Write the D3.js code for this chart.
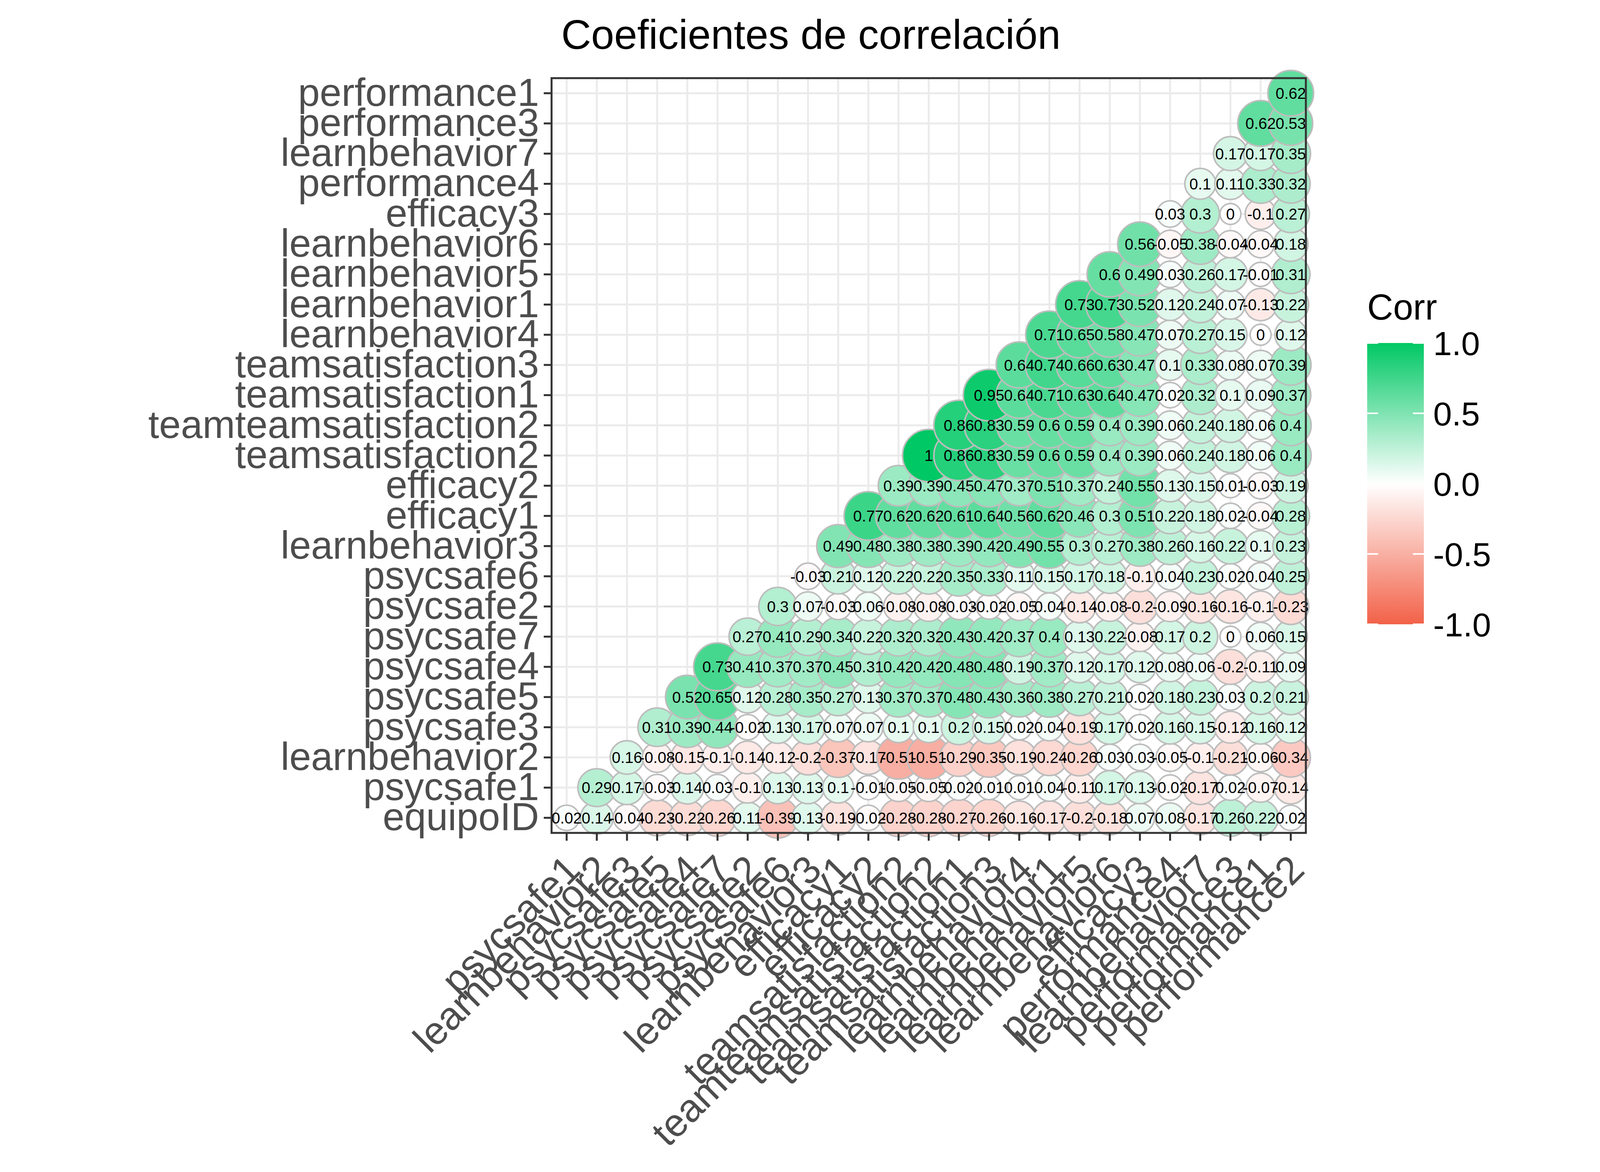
<!DOCTYPE html>
<html>
<head>
<meta charset="utf-8">
<script src="https://cdn.jsdelivr.net/npm/d3@7"></script>
<style>
  body { margin: 0; background: #fff; }
  text { font-family: "Liberation Sans", Arial, sans-serif; }
</style>
</head>
<body>
<svg id="chart" width="4200" height="3000"></svg>
<script>
// variable order along x (left to right) and y (bottom to top)
var xVars = ["psycsafe1","learnbehavior2","psycsafe3","psycsafe5","psycsafe4","psycsafe7","psycsafe2",
  "psycsafe6","learnbehavior3","efficacy1","efficacy2","teamsatisfaction2","teamteamsatisfaction2",
  "teamsatisfaction1","teamsatisfaction3","learnbehavior4","learnbehavior1","learnbehavior5",
  "learnbehavior6","efficacy3","performance4","learnbehavior7","performance3","performance1","performance2"];
var yVars = ["equipoID","psycsafe1","learnbehavior2","psycsafe3","psycsafe5","psycsafe4","psycsafe7",
  "psycsafe2","psycsafe6","learnbehavior3","efficacy1","efficacy2","teamsatisfaction2",
  "teamteamsatisfaction2","teamsatisfaction1","teamsatisfaction3","learnbehavior4","learnbehavior1",
  "learnbehavior5","learnbehavior6","efficacy3","performance4","learnbehavior7","performance3","performance1"];

// row i (yVars[i]) holds values for x columns i..24
var rows = [
  [0.02,0.14,-0.04,-0.23,-0.22,-0.26,0.11,-0.39,0.13,-0.19,-0.02,-0.28,-0.28,-0.27,-0.26,-0.16,-0.17,-0.2,-0.18,0.07,0.08,-0.17,0.26,0.22,0.02],
  [0.29,0.17,-0.03,0.14,0.03,-0.1,0.13,0.13,0.1,-0.01,-0.05,-0.05,0.02,0.01,0.01,0.04,-0.11,0.17,0.13,-0.02,-0.17,0.02,-0.07,-0.14],
  [0.16,-0.08,-0.15,-0.1,-0.14,-0.12,-0.2,-0.37,-0.17,-0.51,-0.51,-0.29,-0.35,-0.19,-0.24,-0.26,0.03,0.03,-0.05,-0.1,-0.21,-0.06,-0.34],
  [0.31,0.39,0.44,-0.02,0.13,0.17,0.07,0.07,0.1,0.1,0.2,0.15,0.02,0.04,-0.19,0.17,0.02,0.16,0.15,-0.12,0.16,0.12],
  [0.52,0.65,0.12,0.28,0.35,0.27,0.13,0.37,0.37,0.48,0.43,0.36,0.38,0.27,0.21,0.02,0.18,0.23,0.03,0.2,0.21],
  [0.73,0.41,0.37,0.37,0.45,0.31,0.42,0.42,0.48,0.48,0.19,0.37,0.12,0.17,0.12,0.08,0.06,-0.2,-0.11,0.09],
  [0.27,0.41,0.29,0.34,0.22,0.32,0.32,0.43,0.42,0.37,0.4,0.13,0.22,-0.08,0.17,0.2,0,0.06,0.15],
  [0.3,0.07,-0.03,0.06,-0.08,-0.08,-0.03,-0.02,-0.05,0.04,-0.14,-0.08,-0.2,-0.09,-0.16,-0.16,-0.1,-0.23],
  [-0.03,0.21,0.12,0.22,0.22,0.35,0.33,0.11,0.15,0.17,0.18,-0.1,0.04,0.23,0.02,0.04,0.25],
  [0.49,0.48,0.38,0.38,0.39,0.42,0.49,0.55,0.3,0.27,0.38,0.26,0.16,0.22,0.1,0.23],
  [0.77,0.62,0.62,0.61,0.64,0.56,0.62,0.46,0.3,0.51,0.22,0.18,0.02,-0.04,0.28],
  [0.39,0.39,0.45,0.47,0.37,0.51,0.37,0.24,0.55,0.13,0.15,0.01,-0.03,0.19],
  [1,0.86,0.83,0.59,0.6,0.59,0.4,0.39,0.06,0.24,0.18,0.06,0.4],
  [0.86,0.83,0.59,0.6,0.59,0.4,0.39,0.06,0.24,0.18,0.06,0.4],
  [0.95,0.64,0.71,0.63,0.64,0.47,0.02,0.32,0.1,0.09,0.37],
  [0.64,0.74,0.66,0.63,0.47,0.1,0.33,0.08,0.07,0.39],
  [0.71,0.65,0.58,0.47,0.07,0.27,0.15,0,0.12],
  [0.73,0.73,0.52,0.12,0.24,0.07,-0.13,0.22],
  [0.6,0.49,0.03,0.26,0.17,-0.01,0.31],
  [0.56,-0.05,0.38,-0.04,-0.04,0.18],
  [0.03,0.3,0,-0.1,0.27],
  [0.1,0.11,0.33,0.32],
  [0.17,0.17,0.35],
  [0.62,0.53],
  [0.62]
];
var legendTicks = [1.0, 0.5, 0.0, -0.5, -1.0];
var title = "Coeficientes de correlación";

var cells = [];
rows.forEach(function(r, i){
  r.forEach(function(v, k){
    cells.push({x: xVars[i + k], y: yVars[i], v: v});
  });
});

var svg = d3.select("#chart");
var pLeft = 1412, pRight = 3343, pTop = 200, pBottom = 2132;

var x = d3.scaleBand().domain(xVars).range([pLeft, pRight]);
var y = d3.scaleBand().domain(yVars).range([pBottom, pTop]);
var color = d3.scaleLinear().domain([-1, 0, 1]).range(["#F26148", "#ffffff", "#00C864"]);
var rmax = 67;
var size = function(v){ return rmax * (0.4 + 0.6 * Math.sqrt(Math.abs(v))); };

// grid
var grid = svg.append("g");
xVars.forEach(function(d){
  grid.append("line").attr("x1", x(d) + x.bandwidth()/2).attr("x2", x(d) + x.bandwidth()/2)
    .attr("y1", pTop).attr("y2", pBottom).attr("stroke", "#ebebeb").attr("stroke-width", 5);
});
yVars.forEach(function(d){
  grid.append("line").attr("y1", y(d) + y.bandwidth()/2).attr("y2", y(d) + y.bandwidth()/2)
    .attr("x1", pLeft).attr("x2", pRight).attr("stroke", "#ebebeb").attr("stroke-width", 5);
});

// circles
svg.append("g").selectAll("circle").data(cells).enter().append("circle")
  .attr("cx", function(d){ return x(d.x) + x.bandwidth()/2; })
  .attr("cy", function(d){ return y(d.y) + y.bandwidth()/2; })
  .attr("r", function(d){ return size(d.v); })
  .attr("fill", function(d){ return color(d.v); })
  .attr("stroke", "#bdbdbd").attr("stroke-width", 4);

// labels
svg.append("g").selectAll("text").data(cells).enter().append("text")
  .attr("x", function(d){ return x(d.x) + x.bandwidth()/2; })
  .attr("y", function(d){ return y(d.y) + y.bandwidth()/2; })
  .attr("dy", "0.36em").attr("text-anchor", "middle")
  .attr("font-size", 40).attr("fill", "#000")
  .text(function(d){ return String(d.v); });

// panel border
svg.append("rect").attr("x", pLeft).attr("y", pTop).attr("width", pRight - pLeft).attr("height", pBottom - pTop)
  .attr("fill", "none").attr("stroke", "#333333").attr("stroke-width", 5);

// axes
var yAxis = svg.append("g").attr("transform", "translate(" + pLeft + ",0)")
  .call(d3.axisLeft(y).tickSize(20).tickPadding(12));
var xAxis = svg.append("g").attr("transform", "translate(0," + pBottom + ")")
  .call(d3.axisBottom(x).tickSize(20).tickPadding(12));
[xAxis, yAxis].forEach(function(a){
  a.select(".domain").remove();
  a.selectAll(".tick line").attr("stroke", "#333333").attr("stroke-width", 5);
  a.selectAll(".tick text").attr("fill", "#4d4d4d").attr("font-size", 100)
    .attr("font-family", "Liberation Sans, Arial, sans-serif");
});
xAxis.selectAll(".tick text")
  .attr("text-anchor", "end").attr("y", 0).attr("dy", 0)
  .attr("transform", "translate(40,100) rotate(-45)");

// title
svg.append("text").attr("x", 2076).attr("y", 125).attr("text-anchor", "middle")
  .attr("font-size", 106).attr("fill", "#000").text(title);

// legend
var defs = svg.append("defs");
var grad = defs.append("linearGradient").attr("id", "lg").attr("x1", 0).attr("y1", 1).attr("x2", 0).attr("y2", 0);
d3.range(0, 1.0001, 0.1).forEach(function(t){
  grad.append("stop").attr("offset", t).attr("stop-color", color(-1 + 2 * t));
});
var lx = 3500, lw = 145, ly0 = 878, ly1 = 1598;
var ls = d3.scaleLinear().domain([-1, 1]).range([ly1, ly0]);
svg.append("text").attr("x", lx).attr("y", 818).attr("font-size", 92).attr("fill", "#000").text("Corr");
svg.append("rect").attr("x", lx).attr("y", ly0).attr("width", lw).attr("height", ly1 - ly0).attr("fill", "url(#lg)");
var lg = svg.append("g");
legendTicks.forEach(function(t){
  lg.append("line").attr("x1", lx).attr("x2", lx + 28).attr("y1", ls(t)).attr("y2", ls(t))
    .attr("stroke", "#fff").attr("stroke-width", 4);
  lg.append("line").attr("x1", lx + lw - 28).attr("x2", lx + lw).attr("y1", ls(t)).attr("y2", ls(t))
    .attr("stroke", "#fff").attr("stroke-width", 4);
  lg.append("text").attr("x", lx + lw + 24).attr("y", ls(t)).attr("dy", "0.36em")
    .attr("font-size", 86).attr("fill", "#000").text(t.toFixed(1));
});
</script>
</body>
</html>
